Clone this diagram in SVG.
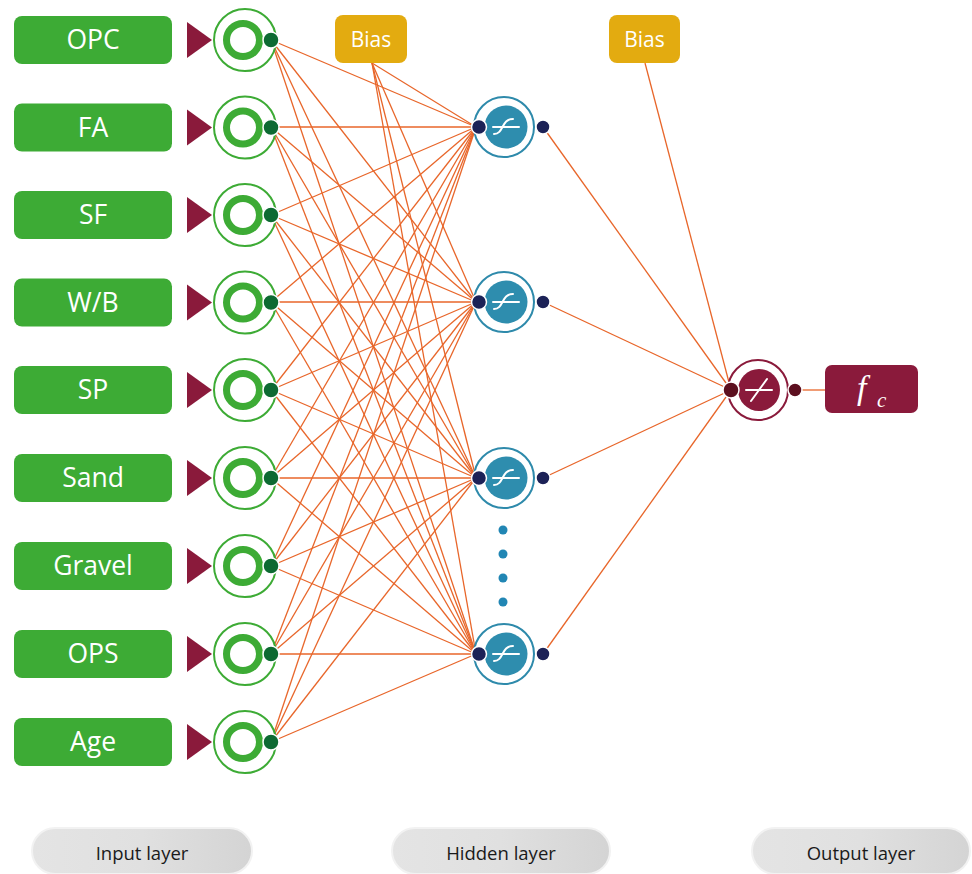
<svg xmlns="http://www.w3.org/2000/svg" width="972" height="874" viewBox="0 0 972 874">
  <defs>
    <style>
      .inbox { fill: #3dab35; }
      .inlabel { font-family: "Open Sans", "Noto Sans", sans-serif; font-size: 26.5px; fill: #ffffff; text-anchor: middle; }
      .tri { fill: #8a1a3b; }
      .ring-out { fill: #ffffff; stroke: #3dab35; stroke-width: 2; }
      .ring-in { fill: none; stroke: #3dab35; stroke-width: 7; }
      .in-dot { fill: #0d6a32; stroke: #ffffff; stroke-width: 1.5; }
      .bias { fill: #e3ab10; }
      .biaslabel { font-family: "Open Sans", "Noto Sans", sans-serif; font-size: 21px; fill: #ffffff; text-anchor: middle; }
      .h-out { fill: #ffffff; stroke: #2e8aab; stroke-width: 2; }
      .h-in { fill: #2e8dae; }
      .h-dot { fill: #1c2257; stroke: #ffffff; stroke-width: 1.5; }
      .sym { fill: none; stroke: #ffffff; stroke-width: 2; stroke-linecap: round; }
      .o-out { fill: #ffffff; stroke: #8a1a3b; stroke-width: 2; }
      .o-in { fill: #8a1a3b; }
      .o-dot { fill: #5c0f1f; stroke: #ffffff; stroke-width: 1.5; }
      .dots { fill: #2186b4; }
      .conn line { stroke: #e8662a; stroke-width: 1.3; }
      .pill { fill: url(#pillGrad); stroke: #f2f2f2; stroke-width: 2; }
      .pilllabel { font-family: "Open Sans", "Noto Sans", sans-serif; font-size: 18.5px; fill: #1a1a1a; text-anchor: middle; }
    </style>
    <linearGradient id="pillGrad" x1="0" y1="0" x2="1" y2="0">
      <stop offset="0" stop-color="#e4e4e4"/>
      <stop offset="0.5" stop-color="#e0e0e0"/>
      <stop offset="1" stop-color="#d4d4d4"/>
    </linearGradient>
  </defs>

  <rect width="972" height="874" fill="#ffffff"/>

  <!-- weighted connections -->
  <g id="connectors" class="conn">
    <!-- input -> hidden -->
    <line x1="271" y1="40" x2="476" y2="127"/>
    <line x1="271" y1="40" x2="476" y2="302"/>
    <line x1="271" y1="40" x2="476" y2="478"/>
    <line x1="271" y1="40" x2="476" y2="654"/>
    <line x1="271" y1="127" x2="476" y2="127"/>
    <line x1="271" y1="127" x2="476" y2="302"/>
    <line x1="271" y1="127" x2="476" y2="478"/>
    <line x1="271" y1="127" x2="476" y2="654"/>
    <line x1="271" y1="215" x2="476" y2="127"/>
    <line x1="271" y1="215" x2="476" y2="302"/>
    <line x1="271" y1="215" x2="476" y2="478"/>
    <line x1="271" y1="215" x2="476" y2="654"/>
    <line x1="271" y1="302" x2="476" y2="127"/>
    <line x1="271" y1="302" x2="476" y2="302"/>
    <line x1="271" y1="302" x2="476" y2="478"/>
    <line x1="271" y1="302" x2="476" y2="654"/>
    <line x1="271" y1="390" x2="476" y2="127"/>
    <line x1="271" y1="390" x2="476" y2="302"/>
    <line x1="271" y1="390" x2="476" y2="478"/>
    <line x1="271" y1="390" x2="476" y2="654"/>
    <line x1="271" y1="478" x2="476" y2="127"/>
    <line x1="271" y1="478" x2="476" y2="302"/>
    <line x1="271" y1="478" x2="476" y2="478"/>
    <line x1="271" y1="478" x2="476" y2="654"/>
    <line x1="271" y1="566" x2="476" y2="127"/>
    <line x1="271" y1="566" x2="476" y2="302"/>
    <line x1="271" y1="566" x2="476" y2="478"/>
    <line x1="271" y1="566" x2="476" y2="654"/>
    <line x1="271" y1="654" x2="476" y2="127"/>
    <line x1="271" y1="654" x2="476" y2="302"/>
    <line x1="271" y1="654" x2="476" y2="478"/>
    <line x1="271" y1="654" x2="476" y2="654"/>
    <line x1="271" y1="742" x2="476" y2="127"/>
    <line x1="271" y1="742" x2="476" y2="302"/>
    <line x1="271" y1="742" x2="476" y2="478"/>
    <line x1="271" y1="742" x2="476" y2="654"/>
    <!-- hidden bias -->
    <line x1="372" y1="63" x2="476" y2="127"/>
    <line x1="372" y1="63" x2="476" y2="302"/>
    <line x1="372" y1="63" x2="476" y2="478"/>
    <line x1="372" y1="63" x2="476" y2="654"/>
    <!-- hidden -> output -->
    <line x1="543" y1="127" x2="731" y2="390"/>
    <line x1="543" y1="302" x2="731" y2="390"/>
    <line x1="543" y1="478" x2="731" y2="390"/>
    <line x1="543" y1="654" x2="731" y2="390"/>
    <!-- output bias -->
    <line x1="645" y1="63" x2="731" y2="390"/>
    <!-- output -> result -->
    <line x1="795" y1="390" x2="826" y2="390"/>
  </g>

  <!-- input layer -->
  <g id="in-opc">
    <rect class="inbox" x="14" y="16" width="158" height="48" rx="8"/>
    <text class="inlabel" x="93" y="49">OPC</text>
    <polygon class="tri" points="187,22 187,58 212,40"/>
    <circle class="ring-out" cx="245" cy="40" r="31"/>
    <circle class="ring-in" cx="243" cy="40" r="16.5"/>
    <circle class="in-dot" cx="271" cy="40" r="8"/>
  </g>
  <g id="in-fa">
    <rect class="inbox" x="14" y="103.5" width="158" height="48" rx="8"/>
    <text class="inlabel" x="93" y="136.5">FA</text>
    <polygon class="tri" points="187,109.5 187,145.5 212,127.5"/>
    <circle class="ring-out" cx="245" cy="127.5" r="31"/>
    <circle class="ring-in" cx="243" cy="127.5" r="16.5"/>
    <circle class="in-dot" cx="271" cy="127.5" r="8"/>
  </g>
  <g id="in-sf">
    <rect class="inbox" x="14" y="191" width="158" height="48" rx="8"/>
    <text class="inlabel" x="93" y="224">SF</text>
    <polygon class="tri" points="187,197 187,233 212,215"/>
    <circle class="ring-out" cx="245" cy="215" r="31"/>
    <circle class="ring-in" cx="243" cy="215" r="16.5"/>
    <circle class="in-dot" cx="271" cy="215" r="8"/>
  </g>
  <g id="in-wb">
    <rect class="inbox" x="14" y="278.5" width="158" height="48" rx="8"/>
    <text class="inlabel" x="93" y="311.5">W/B</text>
    <polygon class="tri" points="187,284.5 187,320.5 212,302.5"/>
    <circle class="ring-out" cx="245" cy="302.5" r="31"/>
    <circle class="ring-in" cx="243" cy="302.5" r="16.5"/>
    <circle class="in-dot" cx="271" cy="302.5" r="8"/>
  </g>
  <g id="in-sp">
    <rect class="inbox" x="14" y="366" width="158" height="48" rx="8"/>
    <text class="inlabel" x="93" y="399">SP</text>
    <polygon class="tri" points="187,372 187,408 212,390"/>
    <circle class="ring-out" cx="245" cy="390" r="31"/>
    <circle class="ring-in" cx="243" cy="390" r="16.5"/>
    <circle class="in-dot" cx="271" cy="390" r="8"/>
  </g>
  <g id="in-sand">
    <rect class="inbox" x="14" y="454" width="158" height="48" rx="8"/>
    <text class="inlabel" x="93" y="487">Sand</text>
    <polygon class="tri" points="187,460 187,496 212,478"/>
    <circle class="ring-out" cx="245" cy="478" r="31"/>
    <circle class="ring-in" cx="243" cy="478" r="16.5"/>
    <circle class="in-dot" cx="271" cy="478" r="8"/>
  </g>
  <g id="in-gravel">
    <rect class="inbox" x="14" y="542" width="158" height="48" rx="8"/>
    <text class="inlabel" x="93" y="575">Gravel</text>
    <polygon class="tri" points="187,548 187,584 212,566"/>
    <circle class="ring-out" cx="245" cy="566" r="31"/>
    <circle class="ring-in" cx="243" cy="566" r="16.5"/>
    <circle class="in-dot" cx="271" cy="566" r="8"/>
  </g>
  <g id="in-ops">
    <rect class="inbox" x="14" y="630" width="158" height="48" rx="8"/>
    <text class="inlabel" x="93" y="663">OPS</text>
    <polygon class="tri" points="187,636 187,672 212,654"/>
    <circle class="ring-out" cx="245" cy="654" r="31"/>
    <circle class="ring-in" cx="243" cy="654" r="16.5"/>
    <circle class="in-dot" cx="271" cy="654" r="8"/>
  </g>
  <g id="in-age">
    <rect class="inbox" x="14" y="718" width="158" height="48" rx="8"/>
    <text class="inlabel" x="93" y="751">Age</text>
    <polygon class="tri" points="187,724 187,760 212,742"/>
    <circle class="ring-out" cx="245" cy="742" r="31"/>
    <circle class="ring-in" cx="243" cy="742" r="16.5"/>
    <circle class="in-dot" cx="271" cy="742" r="8"/>
  </g>

  <!-- bias units -->
  <g id="bias-hidden">
    <rect class="bias" x="335" y="15" width="72" height="48" rx="8"/>
    <text class="biaslabel" x="371" y="47">Bias</text>
  </g>
  <g id="bias-output">
    <rect class="bias" x="609" y="15" width="71" height="48" rx="8"/>
    <text class="biaslabel" x="644.5" y="47">Bias</text>
  </g>

  <!-- hidden layer: sigmoid units -->
  <g id="hidden-1">
    <circle class="h-out" cx="504" cy="127" r="30"/>
    <circle class="h-in" cx="506" cy="127" r="21.5"/>
    <path class="sym" d="M493 127 H519 M494 134 C504 134 501 119 513 119"/>
    <circle class="h-dot" cx="479" cy="127" r="7.5"/>
    <circle class="h-dot" cx="543" cy="127" r="7"/>
  </g>
  <g id="hidden-2">
    <circle class="h-out" cx="504" cy="302" r="30"/>
    <circle class="h-in" cx="506" cy="302" r="21.5"/>
    <path class="sym" d="M493 302 H519 M494 309 C504 309 501 294 513 294"/>
    <circle class="h-dot" cx="479" cy="302" r="7.5"/>
    <circle class="h-dot" cx="543" cy="302" r="7"/>
  </g>
  <g id="hidden-3">
    <circle class="h-out" cx="504" cy="478" r="30"/>
    <circle class="h-in" cx="506" cy="478" r="21.5"/>
    <path class="sym" d="M493 478 H519 M494 485 C504 485 501 470 513 470"/>
    <circle class="h-dot" cx="479" cy="478" r="7.5"/>
    <circle class="h-dot" cx="543" cy="478" r="7"/>
  </g>
  <g id="hidden-ellipsis">
    <circle class="dots" cx="503" cy="530" r="4.5"/>
    <circle class="dots" cx="503" cy="554" r="4.5"/>
    <circle class="dots" cx="503" cy="578" r="4.5"/>
    <circle class="dots" cx="503" cy="602" r="4.5"/>
  </g>
  <g id="hidden-n">
    <circle class="h-out" cx="504" cy="654" r="30"/>
    <circle class="h-in" cx="506" cy="654" r="21.5"/>
    <path class="sym" d="M493 654 H519 M494 661 C504 661 501 646 513 646"/>
    <circle class="h-dot" cx="479" cy="654" r="7.5"/>
    <circle class="h-dot" cx="543" cy="654" r="7"/>
  </g>

  <!-- output layer: linear unit -->
  <g id="output">
    <circle class="o-out" cx="758" cy="390" r="30"/>
    <circle class="o-in" cx="759" cy="390" r="21"/>
    <path class="sym" d="M746 390 H772 M751 401 L767 379"/>
    <circle class="o-dot" cx="731" cy="390" r="8"/>
    <circle class="o-dot" cx="795" cy="390" r="7"/>
  </g>
  <g id="result">
    <rect x="825" y="365" width="93" height="48" rx="7" fill="#8a1a3b"/>
    <text x="857" y="399" font-family="Liberation Serif, serif" font-style="italic" font-size="34" fill="#ffffff">f</text>
    <text x="877" y="407" font-family="Liberation Serif, serif" font-style="italic" font-size="21" fill="#ffffff">c</text>
  </g>

  <!-- layer captions -->
  <g id="label-input">
    <rect class="pill" x="32" y="828" width="220" height="46" rx="23"/>
    <text class="pilllabel" x="142" y="860">Input layer</text>
  </g>
  <g id="label-hidden">
    <rect class="pill" x="392" y="828" width="218" height="46" rx="23"/>
    <text class="pilllabel" x="501" y="860">Hidden layer</text>
  </g>
  <g id="label-output">
    <rect class="pill" x="752" y="828" width="218" height="46" rx="23"/>
    <text class="pilllabel" x="861" y="860">Output layer</text>
  </g>
</svg>
